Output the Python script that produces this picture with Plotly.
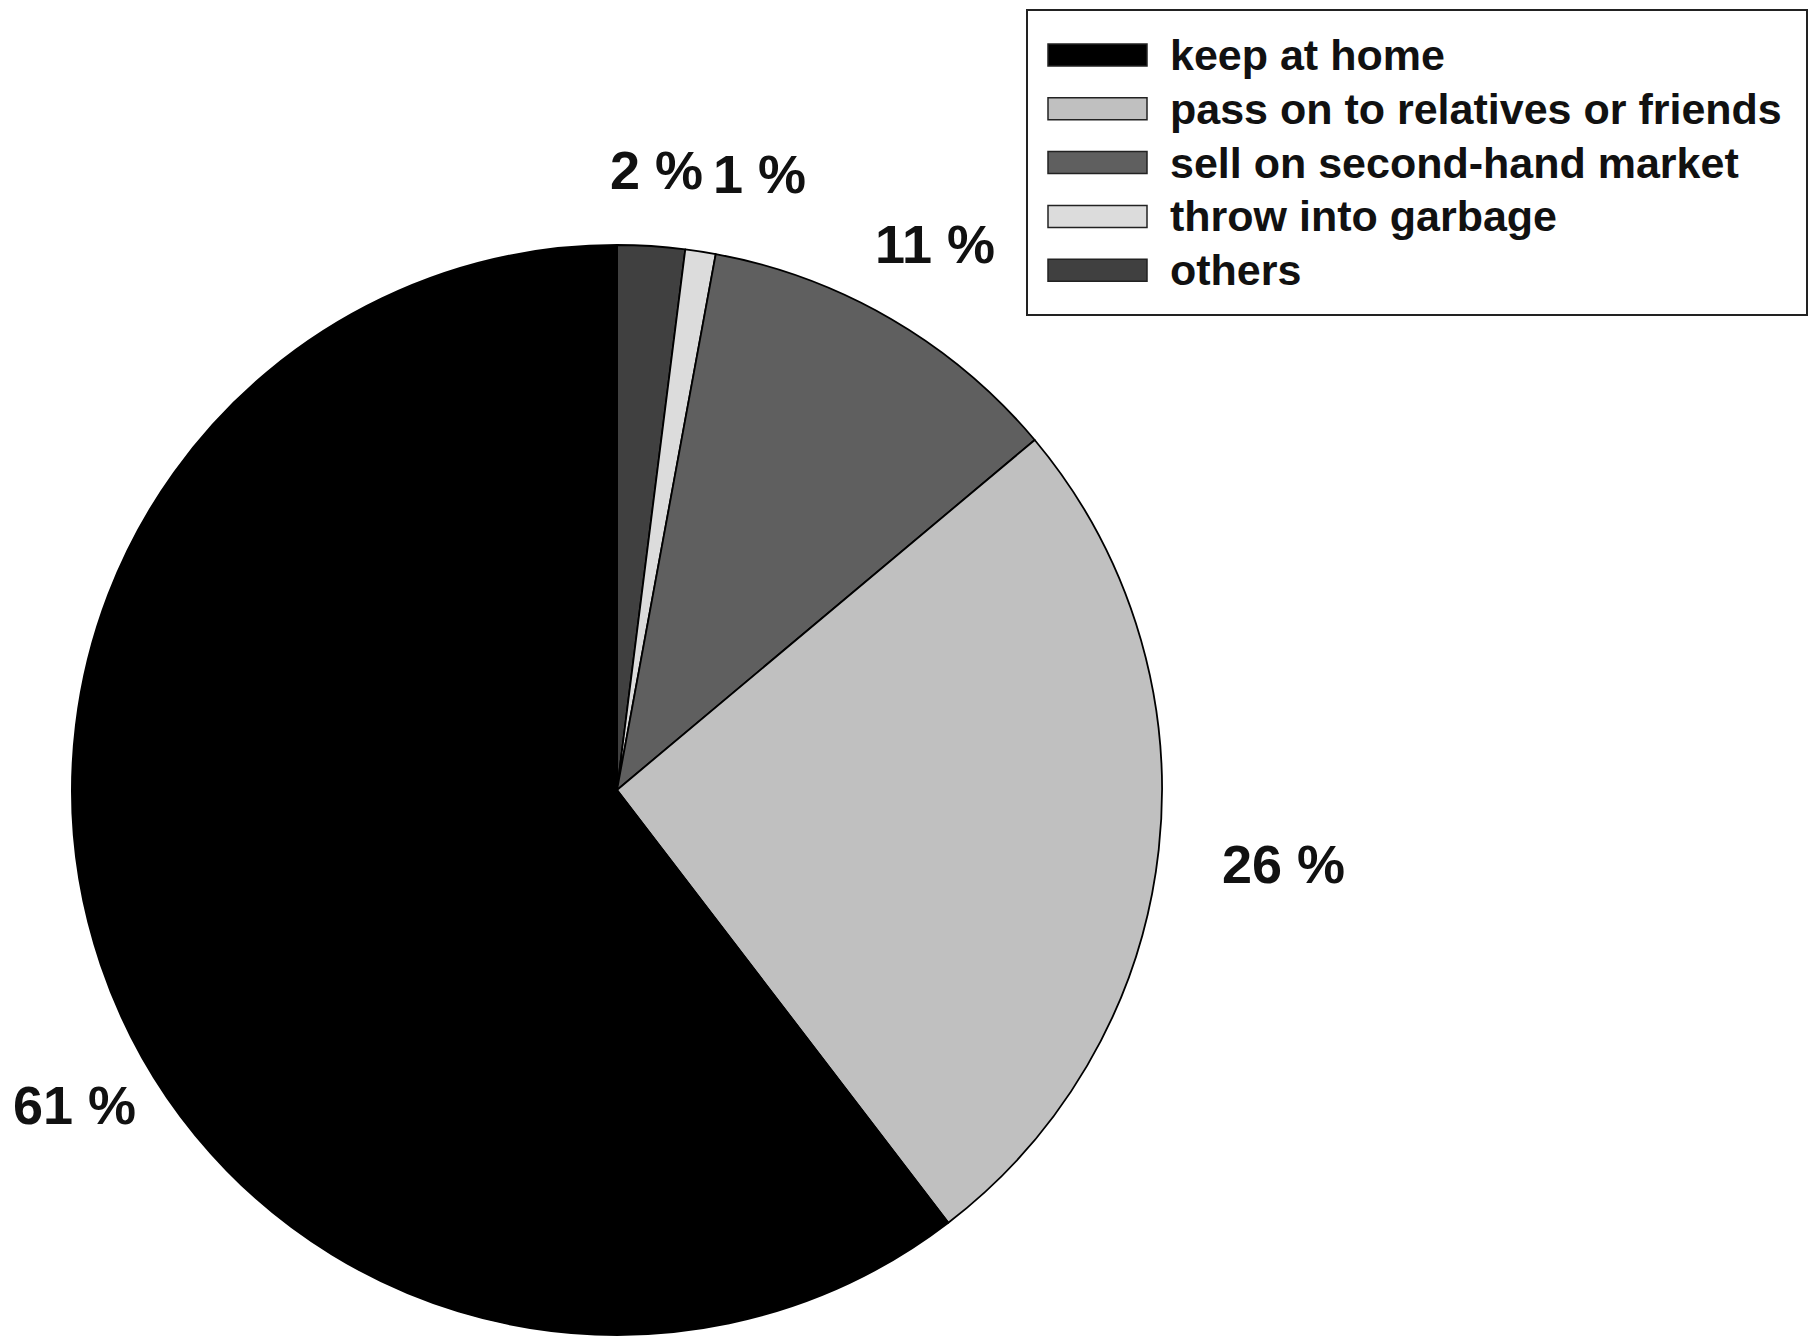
import math
import plotly.graph_objects as go

# ---- data (legend order) ----
categories = ["keep at home", "pass on to relatives or friends",
              "sell on second-hand market", "throw into garbage", "others"]
shares = [60.4, 25.7, 11.0, 0.9, 2.0]
share_labels = ["61 %", "26 %", "11 %", "1 %", "2 %"]
colors = ["#000000", "#c0c0c0", "#5f5f5f", "#dcdcdc", "#404040"]

# ---- layout constants (pixels, page coordinates) ----
W, H = 1816, 1340
OFF = 8  # default page body margin
CX, CY, R = 617, 790, 545
# per-label placement tweaks (radius factor, angular shift in degrees)
label_rfac = [1.15, 1.23, 1.16, 1.16, 1.14]
label_shift = [-11.4, 0.0, 0.0, 4.2, 0.0]
FONT = "Liberation Sans, Arial, sans-serif"

# pie is drawn clockwise from 12 o'clock starting with the last category
pie_order = list(reversed(range(len(categories))))


def px2paper(x, y):
    return (x - OFF) / W, 1 - (y - OFF) / H


dx0, dy0 = px2paper(CX - R, CY + R)
dx1, dy1 = px2paper(CX + R, CY - R)

fig = go.Figure()
fig.add_trace(go.Pie(
    labels=[categories[i] for i in pie_order],
    values=[shares[i] for i in pie_order],
    marker=dict(colors=[colors[i] for i in pie_order],
                line=dict(color="#000000", width=1.8)),
    sort=False, direction="clockwise", rotation=0,
    textinfo="none", hoverinfo="label+percent", showlegend=False,
    domain=dict(x=[dx0, dx1], y=[dy0, dy1]),
))

annotations = []
total = sum(shares)
cum = 0.0
mid_angle = {}
for i in pie_order:
    a0 = cum / total * 360
    cum += shares[i]
    a1 = cum / total * 360
    mid_angle[i] = (a0 + a1) / 2

for i in range(len(categories)):
    ang = math.radians(mid_angle[i] + label_shift[i])
    r = R * label_rfac[i]
    x, y = CX + r * math.sin(ang), CY - r * math.cos(ang)
    px, py = px2paper(x, y)
    annotations.append(dict(x=px, y=py, xref="paper", yref="paper",
                            text="<b>" + share_labels[i] + "</b>", showarrow=False,
                            xanchor="center", yanchor="middle",
                            font=dict(family=FONT, size=54, color="#111111")))

# ---- legend (drawn from categories/colors) ----
shapes = []
LX0, LY0, LX1, LY1 = 1027, 10, 1807, 315
x0, y0 = px2paper(LX0, LY0)
x1, y1 = px2paper(LX1, LY1)
shapes.append(dict(type="rect", xref="paper", yref="paper", x0=x0, y0=y1, x1=x1, y1=y0,
                   line=dict(color="#222222", width=2), fillcolor="rgba(0,0,0,0)"))
ROW0, ROWSTEP = 55, 53.8
SW_X0, SW_X1, SW_H = 1048, 1147, 22
TX = 1168
for k, (cat, col) in enumerate(zip(categories, colors)):
    yc = ROW0 + k * ROWSTEP
    a, b = px2paper(SW_X0, yc - SW_H / 2)
    c, d = px2paper(SW_X1, yc + SW_H / 2)
    shapes.append(dict(type="rect", xref="paper", yref="paper", x0=a, y0=d, x1=c, y1=b,
                       line=dict(color="#222222", width=1.5), fillcolor=col))
    tx, ty = px2paper(TX, yc)
    annotations.append(dict(x=tx, y=ty, xref="paper", yref="paper",
                            text="<b>" + cat + "</b>", showarrow=False,
                            xanchor="left", yanchor="middle",
                            font=dict(family=FONT, size=43, color="#111111")))

fig.update_layout(
    width=W, height=H, margin=dict(l=0, r=0, t=0, b=0),
    paper_bgcolor="white", plot_bgcolor="white",
    annotations=annotations, shapes=shapes, showlegend=False,
)

fig.write_html("out.html")
